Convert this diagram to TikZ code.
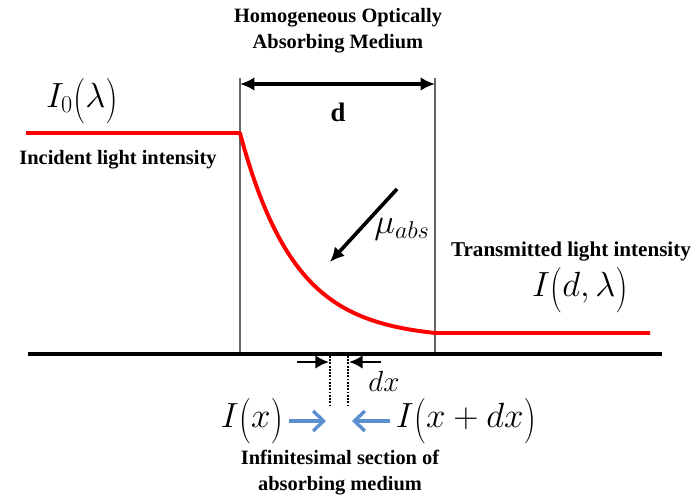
\documentclass[tikz,border=0pt]{standalone}
\usepackage{fontspec}
\setmainfont{Liberation Serif}
\usetikzlibrary{positioning,arrows.meta}
\definecolor{beamRed}{HTML}{FF0000}
\definecolor{fluxBlue}{HTML}{5B8FD0}
\newcommand{\tallpar}[1]{\mathopen{\raisebox{-0.14em}{\scalebox{1}[1.3]{$($}}}%
  #1\mathclose{\raisebox{-0.14em}{\scalebox{1}[1.3]{$)$}}}}

\begin{document}
\begin{tikzpicture}[
    x=0.025cm, y=-0.025cm,
    >={Latex[length=3.6mm,width=3.4mm]},
    txt/.style={font=\fontsize{14.5}{18.5}\selectfont\bfseries, align=center, inner sep=0pt},
    eq/.style={font=\fontsize{25}{28}\selectfont, inner sep=0pt},
    wall/.style={draw=black!60, line width=0.9pt},
    beam/.style={draw=beamRed, line width=2.8pt, line join=round},
    arr/.style={->, line width=2.6pt},
    tick/.style={->, >={Latex[length=3.4mm,width=3.4mm]}, line width=2pt},
    flux/.style={->, draw=fluxBlue, line width=2.6pt,
      >={Straight Barb[length=2.6mm,width=5mm,line width=2.4pt]}},
    slice/.style={densely dotted, line width=1.3pt},
  ]
\useasboundingbox (0,0) rectangle (698,498);

% Medium walls and base line
\coordinate (wlt) at (240,78);  \coordinate (wlb) at (240,354);
\coordinate (wrt) at (435,78);  \coordinate (wrb) at (435,354);
\coordinate (base0) at (28,354); \coordinate (base1) at (662,354);
\draw[wall] (wlt) -- (wlb);
\draw[wall] (wrt) -- (wrb);
\draw[line width=2.6pt] (base0) -- (base1);

% Title and thickness
\node[txt] (title) at (338,31) {Homogeneous Optically\\Absorbing Medium};
\coordinate (dl) at (240,84); \coordinate (dr) at (435,84);
\draw[arr, <->] (dl) -- (dr);
\node[txt, font=\fontsize{19}{22}\selectfont\bfseries] (dlab) at (338,112) {d};

% Intensity profile
\draw[beam] (26,133) -- (240,133)
  -- plot[domain=240:435, samples=80] (\x, {133+200*(1-exp(-(\x-240)/55))/(1-exp(-195/55))})
  -- (650,333);

% Incident side
\node[eq] (i0) at (82,101) {$I_0\tallpar{\lambda}$};
\node[txt] (inc) at (118,160) {Incident light intensity};

% Absorption coefficient
\coordinate (mu0) at (397,189); \coordinate (mu1) at (330,262);
\draw[arr] (mu0) -- (mu1);
\node[eq] (mu) at (402,229) {$\mu_{abs}$};

% Transmitted side
\node[txt, font=\fontsize{15}{18}\selectfont\bfseries] (trans) at (571,252) {Transmitted light intensity};
\node[eq] (id) at (580,290) {$I\tallpar{d,\lambda}$};

% Infinitesimal slice
\coordinate (s1t) at (330,356); \coordinate (s1b) at (330,406);
\coordinate (s2t) at (348,356); \coordinate (s2b) at (348,406);
\draw[slice] (s1t) -- (s1b);
\draw[slice] (s2t) -- (s2b);
\coordinate (dxa) at (297,362); \coordinate (dxa1) at (329,362);
\coordinate (dxb) at (381,362); \coordinate (dxb1) at (349,362);
\draw[tick] (dxa) -- (dxa1);
\draw[tick] (dxb) -- (dxb1);
\node[eq, font=\fontsize{20}{22}\selectfont] (dx) at (384,381) {$dx$};

% Fluxes in and out
\node[eq] (ix) at (252,421) {$I\tallpar{x}$};
\node[eq] (ixdx) at (466,421) {$I\tallpar{x+dx}$};
\coordinate (fl) at (326,421); \coordinate (fr) at (352,421);
\draw[flux, shorten <=4pt] (ix) -- (fl);
\draw[flux, shorten <=4pt] (ixdx) -- (fr);
\node[txt] (sect) at (340,473) {Infinitesimal section of\\absorbing medium};

\end{tikzpicture}
\end{document}
